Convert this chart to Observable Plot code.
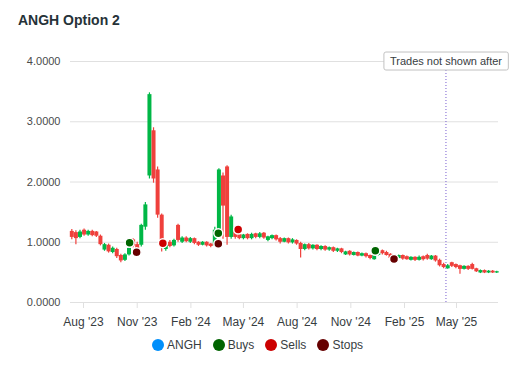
<!DOCTYPE html>
<html>
<head>
<meta charset="utf-8">
<script src="https://cdn.jsdelivr.net/npm/d3@7"></script>
<script src="https://cdn.jsdelivr.net/npm/@observablehq/plot@0.6"></script>
<style>
  html, body { margin: 0; padding: 0; background: #fff; }
  body { width: 530px; height: 380px; overflow: hidden; font-family: "Liberation Sans", Arial, sans-serif; }
  #title { box-sizing: border-box; height: 40px; padding: 13px 0 0 18px; font-size: 14px; line-height: 14px; font-weight: bold; color: #263238; }
  #chart { height: 290px; }
  #legend { height: 30px; display: flex; align-items: center; padding-left: 152px; gap: 11px; font-size: 12px; color: #373d3f; }
  .item { display: flex; align-items: center; }
  .mk { width: 12px; height: 12px; border-radius: 50%; margin-right: 3px; display: inline-block; }
</style>
</head>
<body>
<div id="title">ANGH Option 2</div>
<div id="chart"></div>
<div id="legend"></div>
<script>
// ---- data (weekly candles) ----
const firstWeek = "2023-07-12";
const open = [1.18,1.16,1.08,1.20,1.12,1.18,1.17,1.10,0.87,0.95,
  0.83,0.88,0.78,0.70,0.79,1.04,0.96,0.95,1.25,2.10,
  2.85,2.20,1.45,0.88,1.00,0.94,1.28,1.00,1.07,1.00,
  1.06,1.00,0.95,1.00,0.97,0.94,1.18,2.10,2.25,1.08,
  1.20,1.13,1.06,1.13,1.06,1.14,1.08,1.15,1.03,1.06,
  1.11,1.06,1.00,1.06,0.99,1.03,0.98,0.88,0.96,0.89,
  0.95,0.88,0.93,0.87,0.91,0.85,0.89,0.79,0.85,0.78,
  0.83,0.77,0.81,0.78,0.71,0.78,0.86,0.83,0.80,0.70,
  0.73,0.78,0.76,0.70,0.75,0.70,0.76,0.78,0.71,0.77,
  0.70,0.63,0.56,0.66,0.63,0.61,0.55,0.60,0.63,0.56,
  0.49,0.53,0.49,0.52,0.49];
const close = [1.08,1.06,1.17,1.12,1.18,1.11,1.10,0.96,0.96,0.84,
  0.90,0.76,0.69,0.79,0.90,0.94,0.88,1.28,1.62,3.45,
  2.05,1.45,0.92,0.99,0.93,1.03,1.03,1.07,1.01,1.06,
  0.98,0.95,1.00,0.94,0.93,1.20,2.20,1.60,1.08,1.42,
  1.08,1.06,1.12,1.06,1.13,1.08,1.14,1.07,1.09,1.11,
  1.04,1.00,1.06,0.99,1.04,0.97,0.88,0.96,0.89,0.95,
  0.88,0.93,0.87,0.91,0.85,0.89,0.83,0.84,0.79,0.83,
  0.77,0.81,0.76,0.73,0.79,0.84,0.81,0.78,0.73,0.75,
  0.78,0.72,0.71,0.75,0.70,0.75,0.71,0.72,0.77,0.69,
  0.61,0.58,0.61,0.60,0.58,0.55,0.60,0.55,0.55,0.51,
  0.53,0.49,0.52,0.49,0.51];
const high = [1.21,1.19,1.20,1.22,1.20,1.20,1.18,1.12,0.98,0.97,
  0.92,0.90,0.80,0.81,0.93,1.06,1.00,1.30,1.66,3.48,
  2.90,2.25,1.47,1.01,1.03,1.05,1.30,1.09,1.09,1.08,
  1.07,1.01,1.01,1.01,0.98,1.25,2.22,2.15,2.27,1.45,
  1.22,1.14,1.13,1.14,1.15,1.15,1.16,1.16,1.10,1.12,
  1.12,1.08,1.07,1.07,1.06,1.04,1.00,0.97,0.98,0.96,
  0.96,0.94,0.94,0.92,0.92,0.90,0.90,0.85,0.86,0.84,
  0.84,0.82,0.82,0.79,0.80,0.86,0.87,0.85,0.81,0.76,
  0.79,0.79,0.77,0.76,0.76,0.77,0.77,0.80,0.78,0.78,
  0.72,0.65,0.63,0.67,0.64,0.62,0.61,0.61,0.65,0.57,
  0.54,0.54,0.53,0.53,0.52];
const low = [1.04,0.96,1.06,1.10,1.10,1.09,1.08,0.94,0.85,0.82,
  0.81,0.73,0.66,0.68,0.77,0.91,0.86,0.92,1.20,2.05,
  1.98,1.40,0.84,0.85,0.91,0.92,1.00,0.98,0.99,0.98,
  0.96,0.93,0.94,0.92,0.91,0.92,1.12,1.05,0.95,1.05,
  1.05,1.04,1.04,1.04,1.04,1.06,1.06,1.05,1.01,1.04,
  1.02,0.97,0.99,0.97,0.97,0.95,0.74,0.86,0.87,0.87,
  0.86,0.86,0.85,0.85,0.83,0.83,0.81,0.78,0.77,0.77,
  0.76,0.76,0.74,0.71,0.70,0.77,0.79,0.77,0.70,0.68,
  0.72,0.70,0.70,0.69,0.68,0.69,0.69,0.70,0.70,0.67,
  0.59,0.56,0.55,0.58,0.56,0.47,0.54,0.53,0.54,0.50,
  0.48,0.48,0.48,0.48,0.48];

const buyDates = ["2023-10-19", "2024-03-19", "2024-12-13"];
const buyValues = [0.99, 1.15, 0.86];
const sellDates = ["2023-12-15", "2024-04-22"];
const sellValues = [0.985, 1.21];
const stopDates = ["2023-10-31", "2024-03-19", "2025-01-14"];
const stopValues = [0.835, 0.975, 0.72];

const annotationDate = "2025-04-13";
const annotationText = "Trades not shown after";

const xTickDates = ["2023-08-01","2023-11-01","2024-02-01","2024-05-01","2024-08-01","2024-11-01","2025-02-01","2025-05-01"];
const yTicks = [0, 1, 2, 3, 4];
const xDomain = ["2023-07-09T18:00:00Z", "2025-07-12T00:00:00Z"];

const seriesNames = ["ANGH", "Buys", "Sells", "Stops"];
const seriesColors = ["#008FFB", "#006400", "#CC0000", "#660000"];
const upColor = "#00B746", downColor = "#EF403C";

// ---- build ----
const start = new Date(firstWeek + "T00:00:00Z");
const candles = open.map((o, i) => ({
  date: d3.utcDay.offset(start, 7 * i), open: o, close: close[i], high: high[i], low: low[i]
}));
const pts = (ds, vs) => ds.map((d, i) => ({date: new Date(d + "T00:00:00Z"), value: vs[i]}));
const buys = pts(buyDates, buyValues), sells = pts(sellDates, sellValues), stops = pts(stopDates, stopValues);
const annDate = new Date(annotationDate + "T00:00:00Z");
const isUp = d => d.close >= d.open;
const isDown = d => d.close < d.open;

const plot = Plot.plot({
  width: 530, height: 290,
  marginLeft: 70, marginRight: 32, marginTop: 21, marginBottom: 28,
  style: {fontFamily: "Liberation Sans, Arial, sans-serif", background: "white", overflow: "visible"},
  x: {type: "utc", domain: xDomain.map(d => new Date(d))},
  y: {domain: [0, 4]},
  marks: [
    Plot.gridY(yTicks, {stroke: "#e0e0e0", strokeOpacity: 1}),
    Plot.axisX(xTickDates.map(d => new Date(d + "T00:00:00Z")), {tickFormat: d3.utcFormat("%b '%y"), tickSize: 6, tickPadding: 9, stroke: "#e0e0e0", fill: "#373d3f", fontSize: 12, label: null}),
    Plot.axisY(yTicks, {tickFormat: d => d.toFixed(4), tickSize: 0, tickPadding: 10, fill: "#4a4a4a", fontSize: 11, label: null}),
    Plot.ruleX(candles, {filter: isUp, x: "date", y1: "low", y2: "high", stroke: upColor, strokeWidth: 1.2}),
    Plot.ruleX(candles, {filter: isDown, x: "date", y1: "low", y2: "high", stroke: downColor, strokeWidth: 1.2}),
    Plot.ruleX(candles, {filter: isUp, x: "date", y1: "open", y2: "close", stroke: upColor, strokeWidth: 4}),
    Plot.ruleX(candles, {filter: isDown, x: "date", y1: "open", y2: "close", stroke: downColor, strokeWidth: 4}),
    Plot.ruleX([annDate], {y1: 0, y2: 4, stroke: "#775DD0", strokeWidth: 1, strokeDasharray: "1,2"}),
    Plot.dot(buys, {x: "date", y: "value", r: 4.5, fill: seriesColors[1], stroke: "white", strokeWidth: 1.5}),
    Plot.dot(sells, {x: "date", y: "value", r: 4.5, fill: seriesColors[2], stroke: "white", strokeWidth: 1.5}),
    Plot.dot(stops, {x: "date", y: "value", r: 4.5, fill: seriesColors[3], stroke: "white", strokeWidth: 1.5}),
    Plot.text([annotationText], {x: () => annDate, y: () => 4, text: d => d, fontSize: 11, fill: "#373d3f", textAnchor: "middle", lineAnchor: "middle"})
  ]
});
document.getElementById("chart").appendChild(plot);

// label box behind the annotation text
const annText = Array.from(plot.querySelectorAll("text")).find(t => t.textContent === annotationText);
if (annText) {
  const bb = annText.getBBox();
  const g = annText.parentNode;
  const rect = document.createElementNS("http://www.w3.org/2000/svg", "rect");
  rect.setAttribute("x", bb.x - 6);
  rect.setAttribute("y", bb.y - 3);
  rect.setAttribute("width", bb.width + 12);
  rect.setAttribute("height", bb.height + 6);
  rect.setAttribute("rx", 2);
  rect.setAttribute("fill", "white");
  rect.setAttribute("stroke", "#c2c2c2");
  const tr = annText.getAttribute("transform");
  if (tr) rect.setAttribute("transform", tr);
  g.insertBefore(rect, annText);
}

// legend
const legend = document.getElementById("legend");
seriesNames.forEach((n, i) => {
  const item = document.createElement("span");
  item.className = "item";
  const mk = document.createElement("span");
  mk.className = "mk";
  mk.style.background = seriesColors[i];
  item.appendChild(mk);
  item.appendChild(document.createTextNode(n));
  legend.appendChild(item);
});
</script>
</body>
</html>
